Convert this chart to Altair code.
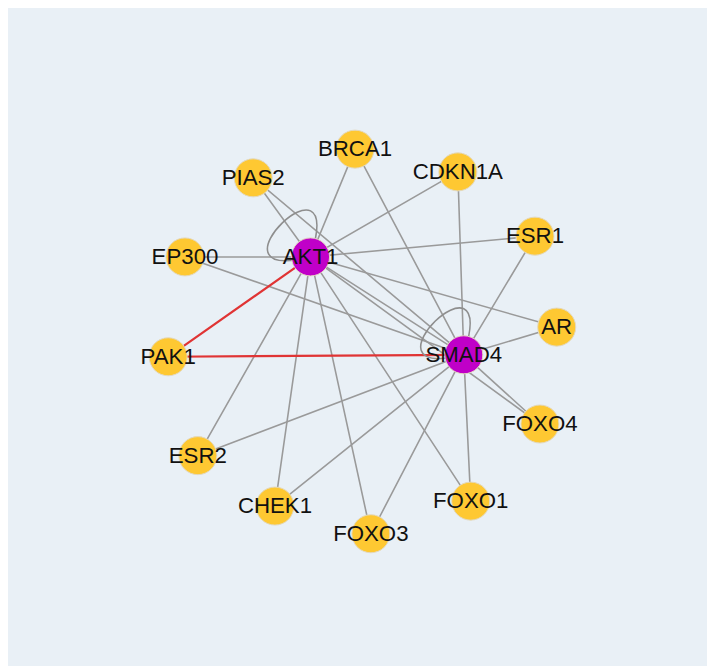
import altair as alt
import pandas as pd

# ---- data ----
node_names = ["BRCA1", "CDKN1A", "PIAS2", "ESR1", "EP300", "AKT1", "AR",
              "PAK1", "SMAD4", "FOXO4", "ESR2", "CHEK1", "FOXO1", "FOXO3"]
node_x = [359, 463, 256, 541, 187, 314, 563, 170, 469, 546, 200, 278, 476, 375]
node_y = [147, 170, 176, 235, 256, 256, 327, 357, 355, 425, 457, 508, 503, 536]
node_group = ["target", "target", "target", "target", "target", "hub", "target",
              "target", "hub", "target", "target", "target", "target", "target"]

edge_source = ["AKT1"] * 13 + ["SMAD4"] * 12
edge_target = ["PIAS2", "BRCA1", "CDKN1A", "ESR1", "EP300", "AR", "SMAD4",
               "FOXO4", "FOXO1", "FOXO3", "CHEK1", "ESR2", "PAK1",
               "PIAS2", "BRCA1", "CDKN1A", "ESR1", "EP300", "AR",
               "FOXO4", "FOXO1", "FOXO3", "CHEK1", "ESR2", "PAK1"]
edge_kind = ["normal"] * 12 + ["highlight"] + ["normal"] * 11 + ["highlight"]

self_loop_nodes = ["AKT1", "SMAD4"]

# ---- tables ----
nodes = pd.DataFrame({"name": node_names, "x": node_x, "y": node_y, "group": node_group})
pos = {n: (x, y) for n, x, y in zip(node_names, node_x, node_y)}
edges = pd.DataFrame({
    "source": edge_source,
    "target": edge_target,
    "kind": edge_kind,
    "x": [pos[s][0] for s in edge_source],
    "y": [pos[s][1] for s in edge_source],
    "x2": [pos[t][0] for t in edge_target],
    "y2": [pos[t][1] for t in edge_target],
})
loops = nodes[nodes["name"].isin(self_loop_nodes)]

W, H = 707, 658
xs = alt.Scale(domain=[8, 8 + W], nice=False, zero=False)
ys = alt.Scale(domain=[8, 8 + H], nice=False, zero=False, reverse=True)
BG = "#E9F0F6"

base_x = alt.X("x:Q", scale=xs, axis=None)
base_y = alt.Y("y:Q", scale=ys, axis=None)

edge_layer = alt.Chart(edges).mark_rule(strokeCap="round").encode(
    x=base_x, y=base_y, x2="x2:Q", y2="y2:Q",
    color=alt.Color("kind:N", scale=alt.Scale(domain=["normal", "highlight"],
                                              range=["#9A9A9A", "#E03434"]), legend=None),
    strokeWidth=alt.StrokeWidth("kind:N", scale=alt.Scale(domain=["normal", "highlight"],
                                                          range=[1.6, 2.2]), legend=None),
    order=alt.Order("kind:N", sort="descending"),
)

loop_path = "M0,0 C0.8,-2.5 -2.4,0.6 0,0"
loop_layer = alt.Chart(loops).mark_point(
    shape=loop_path, filled=False, stroke="#8E8E8E", strokeWidth=1.6,
    size=9200, opacity=1
).encode(x=base_x, y=base_y)

node_layer = alt.Chart(nodes).mark_circle(size=1480, opacity=1, stroke="#E2D9C0",
                                          strokeWidth=1).encode(
    x=base_x, y=base_y,
    color=alt.Color("group:N", scale=alt.Scale(domain=["target", "hub"],
                                               range=["#FEC832", "#C000C8"]), legend=None),
)

label_layer = alt.Chart(nodes).mark_text(
    font="Liberation Sans", fontSize=22.5, color="#111111", baseline="middle", align="center"
).encode(x=base_x, y=base_y, text="name:N")

chart = alt.layer(edge_layer, loop_layer, node_layer, label_layer).resolve_scale(
    color="independent", strokeWidth="independent"
).properties(
    width=W, height=H, background=BG, padding=0,
    autosize=alt.AutoSizeParams(type="none")
).configure_view(fill=BG, stroke=None)

chart.save("out.html", embed_options={"renderer": "svg", "actions": False})
